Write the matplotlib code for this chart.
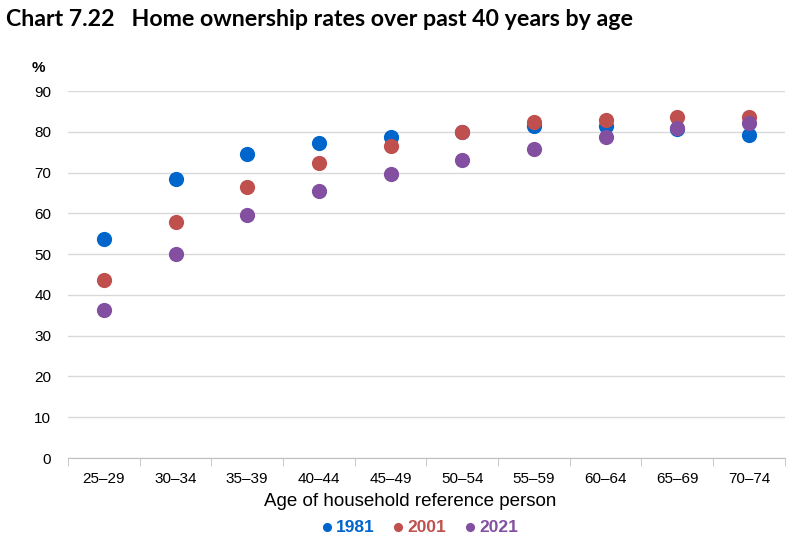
import matplotlib
matplotlib.use('Agg')
from matplotlib import pyplot as plt
import numpy as np

ages = ['25–29', '30–34', '35–39', '40–44', '45–49', '50–54', '55–59', '60–64', '65–69', '70–74']
rate_1981 = [53.6, 68.4, 74.5, 77.3, 78.8, 79.9, 81.5, 81.5, 80.6, 79.1]
rate_2001 = [43.6, 57.8, 66.5, 72.3, 76.4, 80.0, 82.3, 83.0, 83.7, 83.7]
rate_2021 = [36.3, 50.1, 59.7, 65.5, 69.6, 73.0, 75.7, 78.8, 81.0, 82.2]

series = [('1981', rate_1981, '#0066CC'),
          ('2001', rate_2001, '#C0504D'),
          ('2021', rate_2021, '#8350A1')]

plt.rcParams['font.family'] = ['Liberation Sans', 'DejaVu Sans']

fig = plt.figure(figsize=(7.96, 5.45), dpi=100)
ax = fig.add_axes([0.0854, 0.1596, 0.9006, 0.6734])

x = np.arange(len(ages))
for name, vals, col in series:
    ax.scatter(x, vals, s=120, color=col, label=name, zorder=3, linewidths=0)

ax.set_ylim(0, 90)
ax.set_xlim(-0.5, len(ages) - 0.5)
ax.set_yticks(np.arange(0, 91, 10))
ax.yaxis.grid(True, color='#D9D9D9', linewidth=1)
ax.set_axisbelow(True)
ax.set_xticks(x)
ax.set_xticklabels(ages)
ax.set_xticks(np.arange(-0.5, len(ages)), minor=True)
ax.tick_params(axis='x', which='major', length=0, pad=10, labelsize=11)
ax.tick_params(axis='x', which='minor', length=6, color='#BFBFBF')
ax.tick_params(axis='y', length=0, labelsize=11, pad=12)
for s in ['top', 'right', 'left']:
    ax.spines[s].set_visible(False)
ax.spines['bottom'].set_color('#BFBFBF')

ax.set_xlabel('Age of household reference person', fontsize=13.5, labelpad=4)
ax.xaxis.set_label_coords(0.478, -0.095)
fig.text(0.040, 0.868, '%', fontsize=11, fontweight='bold')
fig.text(0.008, 0.965, 'Chart 7.22   Home ownership rates over past 40 years by age',
         fontsize=16.7, fontweight='bold', family=['Lato', 'DejaVu Sans'], va='center')

leg = fig.legend(loc='center', bbox_to_anchor=(0.525, 0.033), ncol=3, frameon=False,
                 handletextpad=0.0, handlelength=1.0, columnspacing=0.9, markerscale=0.6,
                 prop={'size': 12.5, 'weight': 'bold'})
for txt, (name, vals, col) in zip(leg.get_texts(), series):
    txt.set_color(col)

fig.savefig('out.png', dpi=100)
